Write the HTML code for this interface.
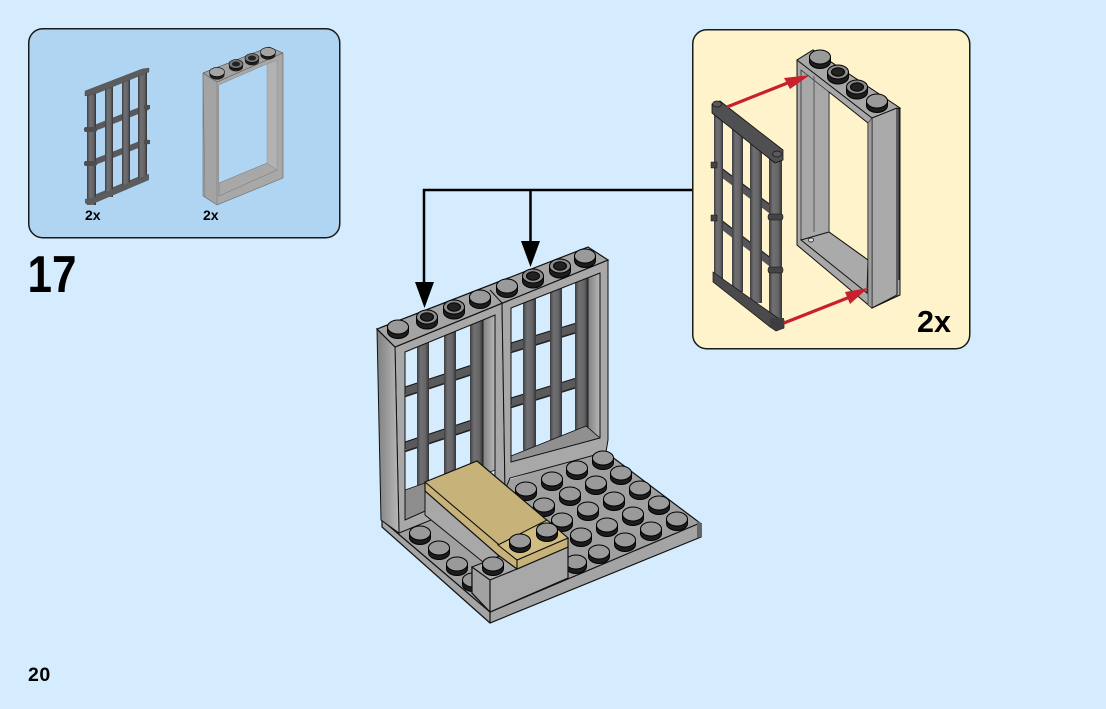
<!DOCTYPE html>
<html><head><meta charset="utf-8"><style>
html,body{margin:0;padding:0;background:#d4ecfd}
svg{display:block;position:absolute;left:0;top:0}
text{font-family:"Liberation Sans",sans-serif;font-weight:bold;fill:#000}
</style></head><body>
<svg width="1106" height="709" viewBox="0 0 1106 709" xmlns="http://www.w3.org/2000/svg">
<defs>
<linearGradient id="b" x1="0" x2="1" y1="0" y2="0"><stop offset="0" stop-color="#3e3e40"/><stop offset=".3" stop-color="#707072"/><stop offset=".7" stop-color="#666668"/><stop offset="1" stop-color="#333335"/></linearGradient>
<linearGradient id="r" x1="0" x2="1" y1="0" y2="0"><stop offset="0" stop-color="#808080"/><stop offset="1" stop-color="#b8b8b8"/></linearGradient>
<g id="s"><path d="M-10.5 0V4.5A10.5 7 0 0 0 10.5 4.5V0Z" fill="#1d1d1d" stroke="#000"/><ellipse cx="0" cy="0" rx="10.5" ry="7" fill="#9a9a9a" stroke="#000" stroke-width="1"/></g>
<g id="h"><path d="M-10.5 0V5A10.5 7 0 0 0 10.5 5V0Z" fill="#1d1d1d" stroke="#000"/><ellipse cx="0" cy="0" rx="10.5" ry="7" fill="#8a8a8a" stroke="#000" stroke-width="1"/><ellipse cx="0" cy="0" rx="6.5" ry="4.2" fill="#222" stroke="#000"/></g>
<g id="ss"><path d="M-7.5 0V3A7.5 4.6 0 0 0 7.5 3V0Z" fill="#1d1d1d"/><ellipse rx="7.5" ry="4.6" fill="#a4a4a4" stroke="#000" stroke-width=".6"/></g>
<g id="sh"><path d="M-7 0V3A7 4.4 0 0 0 7 3V0Z" fill="#1d1d1d"/><ellipse rx="7" ry="4.4" fill="#777" stroke="#000" stroke-width=".6"/><ellipse rx="4" ry="2.5" fill="#222"/></g>
</defs>
<rect width="1106" height="709" fill="#d4ecfd"/>

<!-- parts panel -->
<rect x="28.75" y="28.75" width="311" height="209" rx="14" fill="#b0d5f2" stroke="#1a1a1a" stroke-width="1.5"/>
<!-- small door -->
<g>
<g stroke="#59595b" stroke-width="6" fill="none">
<path d="M92 129L148 107M92 163L148 141M92 199L148 176"/>
</g>
<rect x="105" y="85" width="8" height="112" fill="url(#b)"/>
<rect x="122" y="79" width="8" height="108" fill="url(#b)"/>
<rect x="87" y="92" width="9" height="113" fill="url(#b)"/>
<rect x="138" y="71" width="9" height="108" fill="url(#b)"/>
<path d="M85 91L142 69L149 68L149 72L95 94L85 96Z" fill="#5c5c5e" stroke="#444" stroke-width=".4"/>
<path d="M85 199L95 197L149 174V180L95 203L88 205L85 203Z" fill="#5c5c5e"/>
<g fill="#4e4e50"><rect x="84" y="127" width="13" height="5" rx="2"/><rect x="84" y="161" width="13" height="5" rx="2"/><rect x="144" y="105" width="6" height="4"/><rect x="144" y="140" width="6" height="4"/></g>
</g>
<!-- small frame -->
<path d="M203 73L269 47L283 53V178L217 205L203 196Z M219 85V183L272 62Z" fill-rule="evenodd" fill="#a8a8a8" stroke="#555" stroke-width=".5"/>
<path d="M219 85L272 62L267 163L219 183Z" fill="#b0d5f2"/>
<path d="M203 73L217 82V205L205 197Z" fill="#a4a4a4" stroke="#666" stroke-width=".4"/>
<path d="M219 183L267 163L277 170L219 196Z" fill="#a8a8a8" stroke="#666" stroke-width=".4"/>
<path d="M203 73L269 47L283 53L217 82Z" fill="#a2a2a2" stroke="#444" stroke-width=".5"/>
<path d="M267 64L277 60V170L267 163Z" fill="#b2b2b2" stroke="#888" stroke-width=".4"/>
<use href="#ss" x="217" y="72"/><use href="#sh" x="236" y="64"/><use href="#sh" x="252" y="58"/><use href="#ss" x="268" y="52"/>
<text x="85" y="220" font-size="14">2x</text>
<text x="203" y="220" font-size="14">2x</text>

<text x="27.5" y="292" font-size="52" textLength="49" lengthAdjust="spacingAndGlyphs">17</text>
<text x="28" y="681" font-size="19.5" letter-spacing=".5">20</text>

<!-- callout -->
<rect x="692.75" y="29.75" width="277" height="319" rx="14" fill="#fff3cb" stroke="#1a1a1a" stroke-width="1.5"/>
<!-- connector -->
<path d="M424 284V190H692M530.5 190V243" fill="none" stroke="#000" stroke-width="2.5"/>
<path d="M415 282L434 282L424.5 308Z M521 241L540 241L530.5 267Z" fill="#000"/>

<!-- large frame -->
<path d="M797 60L813 50L900 108V295L872 308L797 245Z M829 92V232L868 260V123Z" fill-rule="evenodd" fill="#a8a8a8" stroke="#111" stroke-width="1"/>
<path d="M801 70L829 92V232L801 240Z" fill="#a8a8a8" stroke="#222" stroke-width=".7"/>
<path d="M814 76V232" stroke="#444" stroke-width=".8"/>
<path d="M801 240L829 232L868 260L867 293Z" fill="#aaaaaa" stroke="#111" stroke-width="1"/>
<path d="M797 60L813 50L900 108L872 118Z" fill="#a8a8a8" stroke="#111" stroke-width="1"/>
<path d="M872 118V308L897 295V108Z" fill="#aaaaaa" stroke="#111" stroke-width="1"/>
<path d="M868 123L872 118V308L868 305Z" fill="#9c9c9c" stroke="#222" stroke-width=".6"/>
<ellipse cx="811" cy="240" rx="2.6" ry="2" fill="#ddd" stroke="#111" stroke-width=".7"/>
<path d="M899 108V280" stroke="#000" stroke-width="1.6" opacity=".7"/>
<use href="#s" x="820" y="57"/><use href="#h" x="838" y="72"/><use href="#h" x="857" y="87"/><use href="#s" x="877" y="101"/>
<!-- large door -->
<g>
<g stroke="#55555a" stroke-width="8" fill="none"><path d="M717 169L773 211M717 221L773 264"/></g>
<g stroke="#1c1c1c" stroke-width=".8" fill="none"><path d="M717 165L773 207M717 217L773 260"/></g>
<rect x="732" y="128" width="11" height="164" fill="url(#b)"/>
<rect x="750" y="141" width="12" height="162" fill="url(#b)"/>
<rect x="714" y="113" width="9" height="168" fill="url(#b)"/>
<rect x="769" y="158" width="13" height="165" fill="url(#b)"/>
<path d="M712 104L720 101L783 150V160L775 163L712 113Z" fill="#505052" stroke="#111" stroke-width=".8"/>
<path d="M713 272L778 318L784 320V328L776 331L770 327L713 282Z" fill="#4a4a4c" stroke="#111" stroke-width=".7"/>
<ellipse cx="717" cy="104" rx="4.5" ry="3" fill="#5a5a5c" stroke="#111" stroke-width=".7"/>
<ellipse cx="777" cy="154" rx="4.5" ry="3" fill="#5a5a5c" stroke="#111" stroke-width=".7"/>
<path d="M770 325A7 5 0 0 0 784 325V318H770Z" fill="#3e3e40"/>
<g fill="#444446" stroke="#111" stroke-width=".5"><rect x="768" y="214" width="15" height="6" rx="2"/><rect x="768" y="267" width="15" height="6" rx="2"/><rect x="711" y="162" width="6" height="6"/><rect x="711" y="215" width="6" height="6"/></g>
</g>
<!-- red arrows -->
<path d="M727 107L795 80M784 323L855 295" stroke="#c9202e" stroke-width="3.2" fill="none"/>
<path d="M810 75L784 78L790 89Z M868 288L845 292L850 304Z" fill="#c9202e"/>
<text x="917" y="332" font-size="30.5">2x</text>

<!-- main model -->
<!-- plate -->
<path d="M382 520L603 450L700 523V537L490 623L382 527Z" fill="#a4a4a4"/>
<path d="M382 520L490 612L700 523L603 450" fill="#a0a0a0" stroke="#111" stroke-width="1.2"/>
<path d="M382 520V527L490 623L701 537V523" fill="none" stroke="#111" stroke-width="1.2"/>
<path d="M490 612V623" stroke="#111" stroke-width="1.2"/>
<path d="M697 521L701 523V537L697 538Z" fill="#666"/>

<!-- bars left -->
<g fill="none">
<path d="M405 392L478 368M405 447L478 423M405 497L483 467" stroke="#5a5a5c" stroke-width="9"/>
<path d="M405 387L478 363M405 442L478 418" stroke="#111" stroke-width="1"/>
<path d="M405 396.500L478 372.500M405 451.500L478 427.500" stroke="#222" stroke-width="1.500"/>
</g>
<rect x="417" y="340" width="12" height="150" fill="url(#b)"/>
<rect x="444" y="330" width="12" height="145" fill="url(#b)"/>
<rect x="470" y="318" width="13" height="150" fill="url(#b)"/>
<path d="M483 320L495 315V470L483 475Z" fill="url(#r)" stroke="#111" stroke-width=".8"/>
<path d="M405 490L425 483V520L405 530Z" fill="#8d8d8d" stroke="#111" stroke-width=".7"/>
<!-- left frame -->
<path d="M395 347L502 303L505 490L399 533Z M405 352V520L495 480V315Z" fill-rule="evenodd" fill="#a8a8a8" stroke="#111" stroke-width="1"/>
<path d="M377 329L395 347L399 533L381 520Z" fill="url(#r)" stroke="#111" stroke-width="1"/>

<!-- bars right -->
<g fill="none">
<path d="M511 348L583 326M511 403L583 381" stroke="#5a5a5c" stroke-width="9"/>
<path d="M511 343L583 321M511 398L583 376" stroke="#111" stroke-width="1"/>
<path d="M511 352.500L583 330.500M511 407.500L583 385.500" stroke="#222" stroke-width="1.500"/>
</g>
<rect x="523" y="297" width="13" height="155" rx="3" fill="url(#b)"/>
<rect x="550" y="286" width="12" height="156" rx="3" fill="url(#b)"/>
<rect x="575" y="277" width="13" height="160" fill="url(#b)"/>
<path d="M588 277L600 273V438L588 441Z" fill="url(#r)" stroke="#111" stroke-width=".8"/>
<path d="M511 456L586 426L600 438L511 463Z" fill="#909090" stroke="#111" stroke-width=".8"/>
<!-- right frame -->
<path d="M502 303L608 260V440L606 452L510 478L505 490Z M511 308V462L600 438V273Z" fill-rule="evenodd" fill="#a8a8a8" stroke="#111" stroke-width="1"/>
<!-- top face -->
<path d="M377 329L588 247L608 260L395 347Z" fill="#a4a4a4" stroke="#111" stroke-width="1.2"/>
<path d="M490 290L502 303" stroke="#111"/>
<use href="#s" x="398" y="327"/><use href="#h" x="427" y="317"/><use href="#h" x="454" y="307"/><use href="#s" x="480" y="297"/><use href="#s" x="507" y="286"/><use href="#h" x="533" y="276"/><use href="#h" x="560" y="266"/><use href="#s" x="585" y="256"/>

<!-- plate studs -->
<use href="#s" x="603" y="458"/><use href="#s" x="621" y="473"/><use href="#s" x="640" y="488"/><use href="#s" x="659" y="503"/><use href="#s" x="677" y="519"/>
<use href="#s" x="577" y="468"/><use href="#s" x="596" y="483"/><use href="#s" x="614" y="499"/><use href="#s" x="633" y="514"/><use href="#s" x="651" y="529"/>
<use href="#s" x="552" y="479"/><use href="#s" x="570" y="494"/><use href="#s" x="588" y="509"/><use href="#s" x="607" y="525"/><use href="#s" x="625" y="540"/>
<use href="#s" x="526" y="489"/><use href="#s" x="544" y="505"/><use href="#s" x="562" y="520"/><use href="#s" x="581" y="535"/><use href="#s" x="599" y="552"/>
<use href="#s" x="576" y="562"/>
<use href="#s" x="420" y="533"/><use href="#s" x="439" y="548"/><use href="#s" x="457" y="564"/><use href="#s" x="473" y="580"/>

<!-- gray brick under tile -->
<path d="M425 490L498 553L498 570L483 562L425 515Z" fill="#a8a8a8" stroke="#111" stroke-width="1"/>
<!-- front brick -->
<path d="M472 567L500 556L517 569L568 547V578L490 612L472 593Z" fill="#a8a8a8" stroke="#111" stroke-width="1.2"/>
<path d="M472 567L490 580V612L472 593Z" fill="#a2a2a2" stroke="#111" stroke-width="1.2"/>
<path d="M490 580L517 569" stroke="#111" stroke-width="1.2"/>
<use href="#s" x="493" y="564"/>
<!-- tan -->
<path d="M425 482L477 461L568 538V547L517 569L498 555L425 491Z" fill="#c7b37a" stroke="#111" stroke-width="1.2"/>
<path d="M425 482L517 560L568 538" fill="none" stroke="#111" stroke-width="1.1"/>
<path d="M517 560V569" stroke="#111" stroke-width="1.1"/>
<path d="M498 545L517 560L568 538L547 520Z" fill="#d1bd82" stroke="#111" stroke-width="1.1"/>
<use href="#s" x="520" y="541"/><use href="#s" x="547" y="530"/>
</svg>
</body></html>
